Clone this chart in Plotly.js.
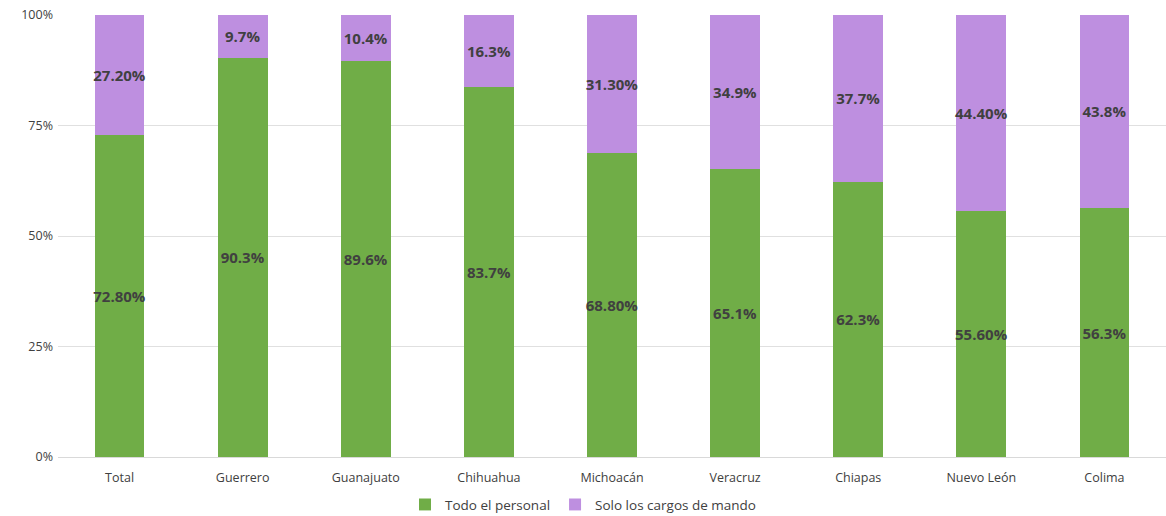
<!DOCTYPE html>
<html>
<head>
<meta charset="utf-8">
<script src="https://cdn.plot.ly/plotly-3.0.1.min.js"></script>
<style>html,body{margin:0;padding:0;background:#fff;}#chart{width:1166px;height:516px;}</style>
</head>
<body>
<div id="chart"></div>
<script>
const categories = ["Total","Guerrero","Guanajuato","Chihuahua","Michoacán","Veracruz","Chiapas","Nuevo León","Colima"];
const todoPersonal = [72.8, 90.3, 89.6, 83.7, 68.8, 65.1, 62.3, 55.6, 56.3];
const todoLabels = ["72.80%","90.3%","89.6%","83.7%","68.80%","65.1%","62.3%","55.60%","56.3%"];
const soloMando = [27.2, 9.7, 10.4, 16.3, 31.3, 34.9, 37.7, 44.4, 43.8];
const soloLabels = ["27.20%","9.7%","10.4%","16.3%","31.30%","34.9%","37.7%","44.40%","43.8%"];
const yTicks = [0, 25, 50, 75, 100];
const yTickLabels = ["0%","25%","50%","75%","100%"];

const font = "Open Sans, Noto Sans, sans-serif";
const labelFont = {family: font, size: 15, color: "#404040", weight: "bold"};

const traces = [
  {type: "bar", name: "Todo el personal", x: categories, y: todoPersonal, text: todoLabels,
   textposition: "inside", insidetextanchor: "middle", textangle: 0, constraintext: "none",
   texttemplate: "<b>%{text}</b>",
   textfont: labelFont, marker: {color: "#70AD47"}, hoverinfo: "none"},
  {type: "bar", name: "Solo los cargos de mando", x: categories, y: soloMando, text: soloLabels,
   textposition: "inside", insidetextanchor: "middle", textangle: 0, constraintext: "none",
   texttemplate: "<b>%{text}</b>",
   textfont: labelFont, marker: {color: "#BE8FE0"}, hoverinfo: "none"}
];

const layout = {
  width: 1166, height: 516,
  barmode: "stack", bargap: 0.595,
  margin: {l: 58, r: 0, t: 15, b: 59},
  paper_bgcolor: "#fff", plot_bgcolor: "#fff",
  font: {family: font, size: 12, color: "#595959"},
  xaxis: {tickfont: {size: 12.5, color: "#404040"}, showline: true, linecolor: "#d9d9d9", ticks: "", ticklabelstandoff: 9, fixedrange: true},
  yaxis: {range: [0, 100], tickvals: yTicks, ticktext: yTickLabels, tickfont: {size: 12.5, color: "#404040"},
          showgrid: true, gridcolor: "#e0e0e0", zeroline: false, showline: false, ticks: "", ticklabelstandoff: 4},
  showlegend: true,
  legend: {orientation: "h", xref: "container", yref: "container", x: 0.5, xanchor: "center", y: 0.022, yanchor: "middle",
           font: {size: 13.5, color: "#404040"}, traceorder: "normal", itemwidth: 30},
  uniformtext: {mode: "show", minsize: 15}
};

Plotly.newPlot("chart", traces, layout, {displayModeBar: false, staticPlot: true});
</script>
</body>
</html>
